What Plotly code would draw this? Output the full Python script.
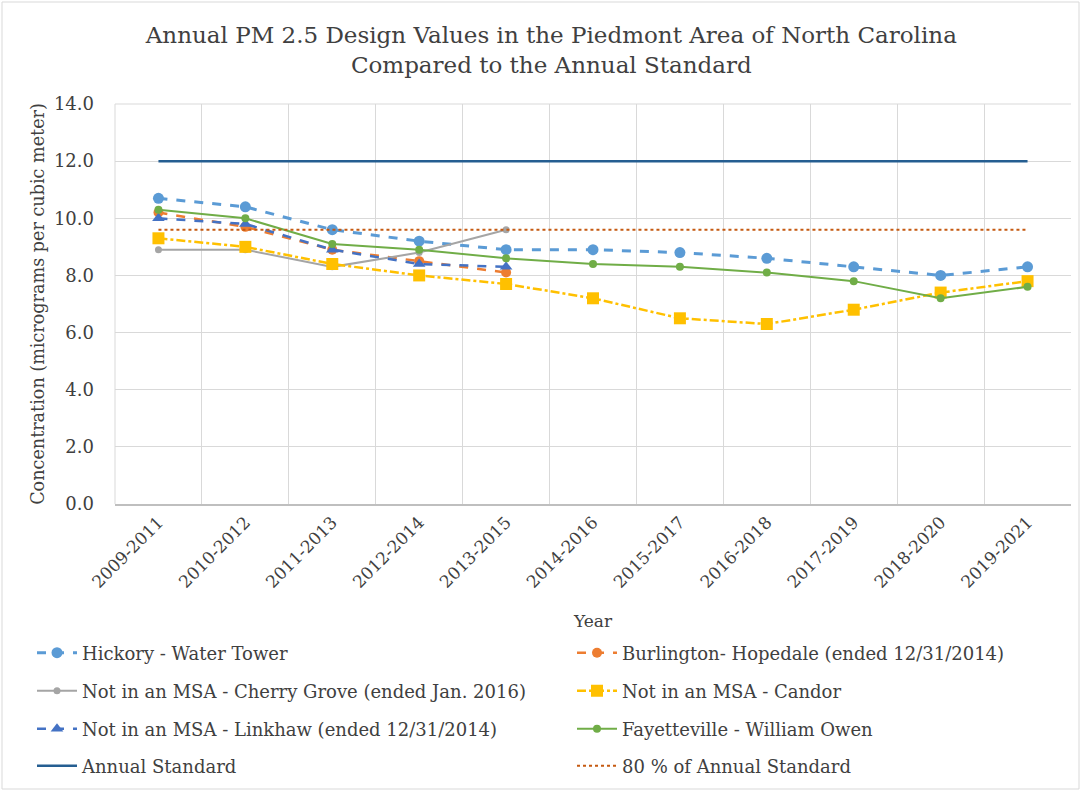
import plotly.graph_objects as go

# Three-year design value periods
periods = ["2009-2011", "2010-2012", "2011-2013", "2012-2014", "2013-2015",
           "2014-2016", "2015-2017", "2016-2018", "2017-2019", "2018-2020",
           "2019-2021"]

# Annual PM 2.5 design values (micrograms per cubic meter)
hickory = [10.7, 10.4, 9.6, 9.2, 8.9, 8.9, 8.8, 8.6, 8.3, 8.0, 8.3]
burlington = [10.2, 9.7, 8.9, 8.5, 8.1, None, None, None, None, None, None]
cherry_grove = [8.9, 8.9, 8.3, 8.8, 9.6, None, None, None, None, None, None]
candor = [9.3, 9.0, 8.4, 8.0, 7.7, 7.2, 6.5, 6.3, 6.8, 7.4, 7.8]
linkhaw = [10.0, 9.8, 8.9, 8.4, 8.3, None, None, None, None, None, None]
fayetteville = [10.3, 10.0, 9.1, 8.9, 8.6, 8.4, 8.3, 8.1, 7.8, 7.2, 7.6]

annual_standard = 12.0
standard_fraction = 0.8

y_ticks = [0, 2, 4, 6, 8, 10, 12, 14]

SERIF = "DejaVu Serif"
TEXT = "#404040"
W, H = 1081, 791
ML, MR, MT, MB = 115, 10, 104, 287

# Legend slots: (column x, row y) in container pixels
COL_X = [32, 572]
ROW_Y = [653, 691, 729, 766]

fig = go.Figure()
legend_layout = {}
slot = [0]


def next_legend():
    i = slot[0]
    slot[0] += 1
    key = "legend" if i == 0 else f"legend{i + 1}"
    legend_layout[key] = dict(
        xref="container", yref="container",
        x=COL_X[i % 2] / W, y=1 - ROW_Y[i // 2] / H,
        xanchor="left", yanchor="middle", orientation="h",
        itemwidth=40, bgcolor="rgba(0,0,0,0)",
        font=dict(family=SERIF, size=18, color=TEXT),
    )
    return key


def add_series(name, values, color, dash, width, symbol, size):
    fig.add_trace(go.Scatter(
        x=periods, y=values, name=name, mode="lines+markers",
        line=dict(color=color, dash=dash, width=width),
        marker=dict(symbol=symbol, size=size, color=color),
        connectgaps=False, legend=next_legend(),
    ))


add_series("Hickory - Water Tower", hickory, "#5B9BD5", "dash", 3,
           "circle", 11)
add_series("Burlington- Hopedale (ended 12/31/2014)", burlington, "#ED7D31",
           "dash", 2.5, "circle", 10)
add_series("Not in an MSA - Cherry Grove (ended Jan. 2016)", cherry_grove,
           "#A5A5A5", "solid", 2, "circle", 7)
add_series("Not in an MSA - Candor", candor, "#FFC000", "dashdot", 2.5,
           "square", 12)
add_series("Not in an MSA - Linkhaw (ended 12/31/2014)", linkhaw, "#4472C4",
           "dash", 2.5, "triangle-up", 11)
add_series("Fayetteville - William Owen", fayetteville, "#70AD47", "solid", 2,
           "circle", 8)

fig.add_trace(go.Scatter(
    x=periods, y=[annual_standard] * len(periods), name="Annual Standard",
    mode="lines", line=dict(color="#255E91", width=2.5),
    legend=next_legend(),
))
fig.add_trace(go.Scatter(
    x=periods, y=[annual_standard * standard_fraction] * len(periods),
    name="80 % of Annual Standard", mode="lines",
    line=dict(color="#C55A11", width=2, dash="dot"),
    legend=next_legend(),
))

fig.update_layout(
    width=W, height=H,
    paper_bgcolor="white", plot_bgcolor="white",
    margin=dict(l=ML, r=MR, t=MT, b=MB, autoexpand=False),
    title=dict(
        text="Annual PM 2.5 Design Values in the Piedmont Area of North Carolina"
             "<br>Compared to the Annual Standard",
        x=0.51, xanchor="center", y=1 - 43 / H, yanchor="middle",
        font=dict(family=SERIF, size=23, color=TEXT),
    ),
    showlegend=True,
    **legend_layout,
)

fig.update_xaxes(
    type="category", tickson="boundaries", tickangle=-45, automargin=False,
    showgrid=True, gridcolor="#D9D9D9", gridwidth=1,
    showline=True, linecolor="#BFBFBF", linewidth=1.5, mirror=False,
    ticks="", tickfont=dict(family=SERIF, size=17, color=TEXT),
    title=dict(text="Year", font=dict(family=SERIF, size=17, color=TEXT),
               standoff=24),
    range=[-0.5, len(periods) - 0.5],
)
fig.update_yaxes(
    range=[0, 14], tickvals=y_ticks, automargin=False,
    ticktext=[f"{v:.1f}" for v in y_ticks],
    showgrid=True, gridcolor="#D9D9D9", gridwidth=1,
    zeroline=False, showline=False, ticklabelstandoff=20,
    tickfont=dict(family=SERIF, size=18, color=TEXT),
    title=dict(text="Concentration (micrograms per cubic meter)",
               font=dict(family=SERIF, size=17.6, color=TEXT), standoff=4),
)

# Plot-area frame on the left and top edges
fig.add_shape(type="line", xref="paper", yref="paper", x0=0, x1=0, y0=0,
              y1=1, line=dict(color="#D9D9D9", width=1))
fig.add_shape(type="line", xref="paper", yref="paper", x0=0, x1=1, y0=1,
              y1=1, line=dict(color="#D9D9D9", width=1))

# Outer chart border
plot_w = W - ML - MR
plot_h = H - MT - MB
fig.add_shape(
    type="rect", xref="paper", yref="paper",
    x0=-(ML - 2) / plot_w, x1=1 + (MR - 2) / plot_w,
    y0=-(MB - 2) / plot_h, y1=1 + (MT - 2) / plot_h,
    line=dict(color="#D9D9D9", width=1), layer="below",
)

fig.write_html("out.html")
